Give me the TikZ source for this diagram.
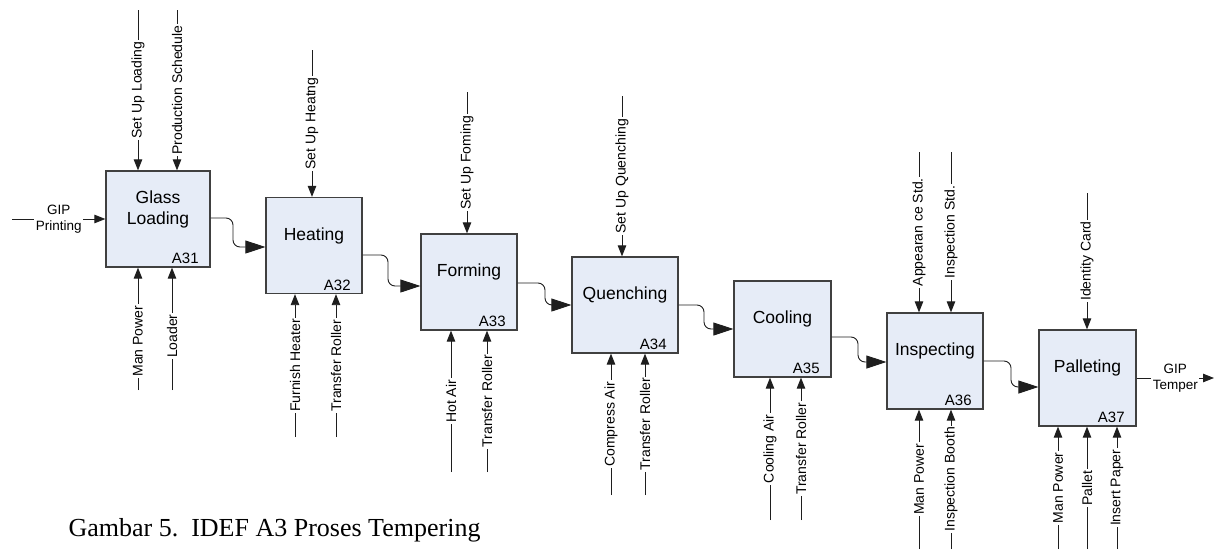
\documentclass[tikz,border=0pt]{standalone}
\usepackage{fontspec}
\setmainfont{Liberation Sans}
\newfontfamily\capfont{Liberation Serif}
\usetikzlibrary{arrows.meta}
\definecolor{boxfill}{RGB}{230,236,247}
\definecolor{boxline}{RGB}{64,64,64}
\definecolor{wirec}{RGB}{30,30,30}
\begin{document}
\begin{tikzpicture}[x=1pt,y=-1pt,
  fbox/.style={draw=boxline, line width=1.3pt, fill=boxfill, minimum height=96pt, inner sep=0pt},
  title/.style={font=\fontsize{17.5}{21}\selectfont, align=center},
  anum/.style={font=\fontsize{15}{18}\selectfont, anchor=base east},
  wire/.style={draw=wirec, line width=0.9pt},
  ctl/.style={wire, -{Triangle[length=11pt,width=8.5pt]}},
  flow/.style={wire, rounded corners=7pt, -{Triangle[length=20pt,width=13pt]}},
  lab/.style={font=\fontsize{14}{16}\selectfont, fill=white, inner sep=1.5pt, rotate=90},
  iolab/.style={font=\fontsize{13.5}{16}\selectfont, fill=white, inner sep=1.5pt, align=center},
]
\fill[white] (0,0) rectangle (1220,549);
\useasboundingbox (0,0) rectangle (1220,549);

% activity boxes
\node[fbox, minimum width=104pt] (a31) at (158,219) {};
\node[fbox, minimum width=96pt]  (a32) at (314,245.5) {};
\node[fbox, minimum width=96pt]  (a33) at (469,282) {};
\node[fbox, minimum width=106pt] (a34) at (625,305) {};
\node[fbox, minimum width=97pt]  (a35) at (782.5,329) {};
\node[fbox, minimum width=96pt]  (a36) at (935,361) {};
\node[fbox, minimum width=97pt]  (a37) at (1087.5,378) {};

% box titles and numbers
\node[title] (t31) at ([yshift=10pt]a31.center) {Glass\\Loading};
\node[title] (t32) at ([yshift=10pt]a32.center) {Heating};
\node[title] (t33) at ([yshift=10pt]a33.center) {Forming};
\node[title] (t34) at ([yshift=10pt]a34.center) {Quenching};
\node[title] (t35) at ([yshift=10pt]a35.center) {Cooling};
\node[title] (t36) at ([yshift=10pt]a36.center) {Inspecting};
\node[title] (t37) at ([yshift=10pt]a37.center) {Palleting};
\foreach \b/\n in {a31/A31,a32/A32,a33/A33,a34/A34,a35/A35,a36/A36,a37/A37}
  \node[anum] (n\b) at ([xshift=-8.5pt,yshift=4pt]\b.south east) {\n};

% input and output of the whole process
\coordinate (gin) at (12,219);
\coordinate (gout) at (1214,378);
\draw[ctl] (gin) -- node[iolab] (lin) {GIP\\Printing} (gin -| a31.west);
\draw[ctl] (a37.east) -- node[iolab] (lout) {GIP\\Temper} (gout);

% flow between activities
\draw[flow] (a31.east |- 0,218) -- (233,218) -- (233,247) -- (a32.west |- 0,247);
\draw[flow] (a32.east |- 0,255) -- (388,255) -- (388,286) -- (a33.west |- 0,286);
\draw[flow] (a33.east |- 0,283) -- (545,283) -- (545,305) -- (a34.west |- 0,305);
\draw[flow] (a34.east |- 0,305) -- (704,305) -- (704,329) -- (a35.west |- 0,329);
\draw[flow] (a35.east |- 0,337) -- (858,337) -- (858,362) -- (a36.west |- 0,362);
\draw[flow] (a36.east |- 0,361) -- (1011,361) -- (1011,387) -- (a37.west |- 0,387);

% controls (from above)
\coordinate (c31a) at (138,10);
\coordinate (c31b) at (177,10);
\coordinate (c32a) at (312,50);
\coordinate (c33a) at (467,92);
\coordinate (c34a) at (622,96);
\coordinate (c36a) at (919,152);
\coordinate (c36b) at (951,152);
\coordinate (c37a) at (1087,193);
\draw[ctl] (c31a) -- node[lab] {Set Up Loading} (c31a |- a31.north);
\draw[ctl] (c31b) -- node[lab] {Production Schedule} (c31b |- a31.north);
\draw[ctl] (c32a) -- node[lab] {Set Up Heatng} (c32a |- a32.north);
\draw[ctl] (c33a) -- node[lab] {Set Up Foming} (c33a |- a33.north);
\draw[ctl] (c34a) -- node[lab] {Set Up Quenching} (c34a |- a34.north);
\draw[ctl] (c36a) -- node[lab] {Appearan ce Std.} (c36a |- a36.north);
\draw[ctl] (c36b) -- node[lab] {Inspection Std.} (c36b |- a36.north);
\draw[ctl] (c37a) -- node[lab] {Identity Card} (c37a |- a37.north);

% mechanisms (from below)
\coordinate (m31a) at (138,390);
\coordinate (m31b) at (172,390);
\coordinate (m32a) at (295,437);
\coordinate (m32b) at (336,437);
\coordinate (m33a) at (451,472);
\coordinate (m33b) at (487,472);
\coordinate (m34a) at (611,495);
\coordinate (m34b) at (645,495);
\coordinate (m35a) at (770,520);
\coordinate (m35b) at (801,520);
\coordinate (m36a) at (919,549);
\coordinate (m36b) at (951,549);
\coordinate (m37a) at (1058,549);
\coordinate (m37b) at (1087,549);
\coordinate (m37c) at (1117,549);
\draw[ctl] (m31a) -- node[lab, pos=0.4] {Man Power} (m31a |- a31.south);
\draw[ctl] (m31b) -- node[lab, pos=0.44] {Loader} (m31b |- a31.south);
\draw[ctl] (m32a) -- node[lab] {Furnish Heater} (m32a |- a32.south);
\draw[ctl] (m32b) -- node[lab] {Transfer Roller} (m32b |- a32.south);
\draw[ctl] (m33a) -- node[lab] {Hot Air} (m33a |- a33.south);
\draw[ctl] (m33b) -- node[lab] {Transfer Roller} (m33b |- a33.south);
\draw[ctl] (m34a) -- node[lab] {Compress Air} (m34a |- a34.south);
\draw[ctl] (m34b) -- node[lab] {Transfer Roller} (m34b |- a34.south);
\draw[ctl] (m35a) -- node[lab] {Cooling Air} (m35a |- a35.south);
\draw[ctl] (m35b) -- node[lab] {Transfer Roller} (m35b |- a35.south);
\draw[ctl] (m36a) -- node[lab] {Man Power} (m36a |- a36.south);
\draw[ctl] (m36b) -- node[lab] {Inspection Booth} (m36b |- a36.south);
\draw[ctl] (m37a) -- node[lab] {Man Power} (m37a |- a37.south);
\draw[ctl] (m37b) -- node[lab] {Pallet} (m37b |- a37.south);
\draw[ctl] (m37c) -- node[lab] {Insert Paper} (m37c |- a37.south);

% caption
\node[anchor=base west, font=\capfont\fontsize{26}{30}\selectfont] (cap) at (65,536)
  {Gambar 5.\hspace{0.5em}IDEF A3 Proses Tempering};
\end{tikzpicture}
\end{document}
